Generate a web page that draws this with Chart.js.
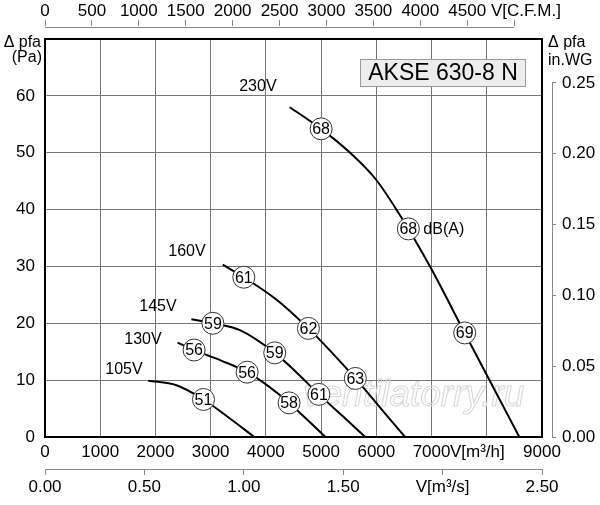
<!DOCTYPE html>
<html>
<head>
<meta charset="utf-8">
<title>AKSE 630-8 N</title>
<script src="https://cdn.jsdelivr.net/npm/chart.js@4.4.1/dist/chart.umd.min.js"></script>
<style>
    html, body { margin: 0; padding: 0; background: #fff; }
    #wrap { width: 600px; height: 505px; }
</style>
</head>
<body>
<div id="wrap"><canvas id="fan" width="600" height="505"></canvas></div>
<script>
// air volume (m3/h) vs static pressure (Pa)
var flow230 = [4430, 5000, 5500, 6000, 6580, 7000, 7600, 8000, 8590];
var pres230 = [58.0, 54.2, 50.2, 45.2, 36.6, 29.5, 18.3, 10.9, 0];
var db230   = [null, 68, null, null, 68, null, 69, null, null];

var flow160 = [3220, 3600, 4200, 4770, 5200, 5620, 6240, 6520];
var pres160 = [30.3, 28.1, 24.1, 19.1, 14.8, 10.3, 3.2, 0];
var db160   = [null, 61, null, 62, null, 63, null, null];

var flow145 = [2650, 3040, 3530, 4160, 4550, 4960, 5400, 5800];
var pres145 = [20.7, 20.0, 18.8, 14.8, 11.4, 7.5, 3.6, 0];
var db145   = [null, 59, null, 59, null, 61, null, null];

var flow130 = [2400, 2700, 3200, 3660, 4050, 4420, 5080];
var pres130 = [16.6, 15.3, 13.4, 11.4, 8.9, 6.0, 0];
var db130   = [null, 56, null, 56, null, 58, null];

var flow105 = [1870, 2380, 2870, 3300, 3790];
var pres105 = [9.9, 9.1, 6.6, 3.6, 0];
var db105   = [null, null, 51, null, null];

// voltage captions, anchored in data units
var voltNames  = ['230V', '160V', '145V', '130V', '105V'];
var voltAtFlow = [3855, 2570, 2045, 1774, 1430];
var voltAtPres = [61.7, 32.6, 23.0, 17.2, 11.8];

// tick values of the five axes
var flowTicks = [0, 1000, 2000, 3000, 4000, 5000, 6000, 7000, 8000, 9000];
var presTicks = [0, 10, 20, 30, 40, 50, 60, 70];
var cfmTicks  = [0, 500, 1000, 1500, 2000, 2500, 3000, 3500, 4000, 4500, 5000];
var m3sTicks  = [0, 0.5, 1, 1.5, 2, 2.5];
var inwgTicks = [0, 0.05, 0.10, 0.15, 0.20, 0.25];
var CFM_PER_M3H = 1 / 1.69901;
var INWG_PER_PA = 1 / 249.089;

var FONT = "'Liberation Sans', Arial, Helvetica, sans-serif";
Chart.defaults.font.family = FONT;
Chart.defaults.font.size = 17;
Chart.defaults.color = '#000';

var GRID = '#777';
var AXIS = '#888';

function useTicks(list) {
    return function(s) { s.ticks = list.map(function(v) { return {value: v}; }); };
}

function curve(flow, pres, db) {
    return {
        data: flow.map(function(q, i) { return {x: q, y: pres[i]}; }),
        db: db,
        borderColor: '#000',
        borderWidth: 2,
        cubicInterpolationMode: 'monotone',
        pointRadius: function(c) { return db[c.dataIndex] ? 11 : 0; },
        pointBackgroundColor: '#fff',
        pointBorderColor: '#333',
        pointBorderWidth: 1,
        xAxisID: 'x',
        yAxisID: 'y'
    };
}

var extras = {
    id: 'fanExtras',
    beforeDatasetsDraw: function(chart) {
        var c = chart.ctx, a = chart.chartArea;
        c.save();
        c.font = 'italic 37px ' + FONT;
        c.strokeStyle = '#d6d6d6';
        c.lineWidth = 1;
        c.textAlign = 'left';
        c.textBaseline = 'alphabetic';
        c.strokeText('ventilatorry.ru', a.left + 258, a.bottom - 31);
        c.restore();
    },
    afterDatasetsDraw: function(chart) {
        var c = chart.ctx;
        var sx = chart.scales.x, sy = chart.scales.y;
        c.save();
        c.fillStyle = '#000';
        c.textAlign = 'center';
        c.textBaseline = 'middle';
        c.font = '16px ' + FONT;
        chart.data.datasets.forEach(function(ds, k) {
            var pts = chart.getDatasetMeta(k).data;
            ds.db.forEach(function(v, i) {
                if (v) c.fillText(String(v), pts[i].x, pts[i].y + 1);
            });
        });
        // unit next to the second 230V circle
        var p = chart.getDatasetMeta(0).data[4];
        c.textAlign = 'left';
        c.fillText('dB(A)', p.x + 15, p.y + 1);

        c.textAlign = 'center';
        voltNames.forEach(function(n, i) {
            c.fillText(n, sx.getPixelForValue(voltAtFlow[i]), sy.getPixelForValue(voltAtPres[i]));
        });
        c.restore();
    },
    afterDraw: function(chart) {
        var c = chart.ctx, a = chart.chartArea;
        var top = chart.scales.xTop, bot = chart.scales.xSec, right = chart.scales.yRight;
        c.save();
        c.strokeStyle = AXIS;
        c.lineWidth = 1;
        c.beginPath();
        // C.F.M. axis line
        var ty = Math.round(a.top - 12.5) + 0.5;
        c.moveTo(top.getPixelForValue(0), ty);
        c.lineTo(top.getPixelForValue(5000), ty);
        // m3/s axis line
        var by = Math.round(bot.top + 7) + 0.5;
        c.moveTo(bot.getPixelForValue(0), by);
        c.lineTo(bot.getPixelForValue(2.5), by);
        // in.WG axis line
        var rx = Math.round(a.right + 10) + 0.5;
        c.moveTo(rx, right.getPixelForValue(0));
        c.lineTo(rx, right.getPixelForValue(0.25));
        c.stroke();

        // model name box
        var bw = 166, bh = 28, bx = a.right - 16 - bw, byy = a.top + 20;
        c.fillStyle = '#ededed';
        c.fillRect(bx, byy, bw, bh);
        c.strokeStyle = '#9a9a9a';
        c.strokeRect(bx + 0.5, byy + 0.5, bw - 1, bh - 1);
        c.fillStyle = '#000';
        c.font = '23px ' + FONT;
        c.textAlign = 'center';
        c.textBaseline = 'middle';
        c.fillText('AKSE 630-8 N', bx + bw / 2, byy + bh / 2 + 1);

        // axis titles
        c.font = '16px ' + FONT;
        c.textAlign = 'right';
        c.fillText('\u0394 pfa', 41, 43);
        c.fillText('(Pa)', 42, 58);
        c.textAlign = 'left';
        c.fillText('\u0394 pfa', 548, 43);
        c.fillText('in.WG', 548, 61);
        c.restore();
    }
};

var chart = new Chart(document.getElementById('fan'), {
    type: 'line',
    data: {
        datasets: [
            curve(flow230, pres230, db230),
            curve(flow160, pres160, db160),
            curve(flow145, pres145, db145),
            curve(flow130, pres130, db130),
            curve(flow105, pres105, db105)
        ]
    },
    plugins: [extras],
    options: {
        responsive: false,
        animation: false,
        events: [],
        layout: { padding: 0 },
        plugins: { legend: { display: false }, tooltip: { enabled: false } },
        scales: {
            x: {
                type: 'linear', position: 'bottom', weight: 0,
                min: flowTicks[0], max: flowTicks[flowTicks.length - 1],
                afterBuildTicks: useTicks(flowTicks),
                ticks: {
                    padding: 5, autoSkip: false, maxRotation: 0, minRotation: 0,
                    callback: function(v) { return v === 8000 ? 'V[m\u00b3/h]    ' : v; }
                },
                grid: { color: GRID, lineWidth: 1, drawTicks: false },
                border: { color: '#000', width: 2, z: 1 },
                afterFit: function(s) { s.height = 25; }
            },
            xSec: {
                type: 'linear', position: 'bottom', weight: 1,
                min: 0, max: flowTicks[flowTicks.length - 1] / 3600,
                afterBuildTicks: useTicks(m3sTicks),
                ticks: {
                    padding: 2, autoSkip: false, maxRotation: 0, minRotation: 0,
                    callback: function(v) { return v === 2 ? 'V[m\u00b3/s]' : v.toFixed(2); }
                },
                grid: {
                    drawOnChartArea: false, drawTicks: true, tickLength: 13,
                    tickColor: AXIS, tickBorderDash: [0, 7, 6, 0]
                },
                border: { display: false },
                afterFit: function(s) { s.height = 43; }
            },
            xTop: {
                type: 'linear', position: 'top',
                min: 0, max: flowTicks[flowTicks.length - 1] * CFM_PER_M3H,
                afterBuildTicks: useTicks(cfmTicks),
                ticks: {
                    padding: 0, autoSkip: false, maxRotation: 0, minRotation: 0,
                    font: { size: 17, lineHeight: 1 },
                    callback: function(v) { return v === 5000 ? '     V[C.F.M.]' : v; }
                },
                grid: {
                    drawOnChartArea: false, drawTicks: true, tickLength: 19,
                    tickColor: AXIS, tickBorderDash: [6, 20]
                },
                border: { color: '#000', width: 2, z: 1 },
                afterFit: function(s) { s.height = 39; }
            },
            y: {
                type: 'linear', position: 'left',
                min: presTicks[0], max: presTicks[presTicks.length - 1],
                afterBuildTicks: useTicks(presTicks),
                ticks: {
                    padding: 10, autoSkip: false,
                    callback: function(v) { return v === 70 ? '' : v; }
                },
                grid: { color: GRID, lineWidth: 1, drawTicks: false },
                border: { color: '#000', width: 2, z: 1 },
                afterFit: function(s) { s.width = 45; }
            },
            yRight: {
                type: 'linear', position: 'right',
                min: 0, max: presTicks[presTicks.length - 1] * INWG_PER_PA,
                afterBuildTicks: useTicks(inwgTicks),
                ticks: {
                    padding: 6, autoSkip: false,
                    callback: function(v) { return v.toFixed(2); }
                },
                grid: {
                    drawOnChartArea: false, drawTicks: true, tickLength: 14,
                    tickColor: AXIS, tickBorderDash: [0, 9, 4, 0]
                },
                border: { color: '#000', width: 2, z: 1 },
                afterFit: function(s) { s.width = 58; }
            }
        }
    }
});
</script>
</body>
</html>
